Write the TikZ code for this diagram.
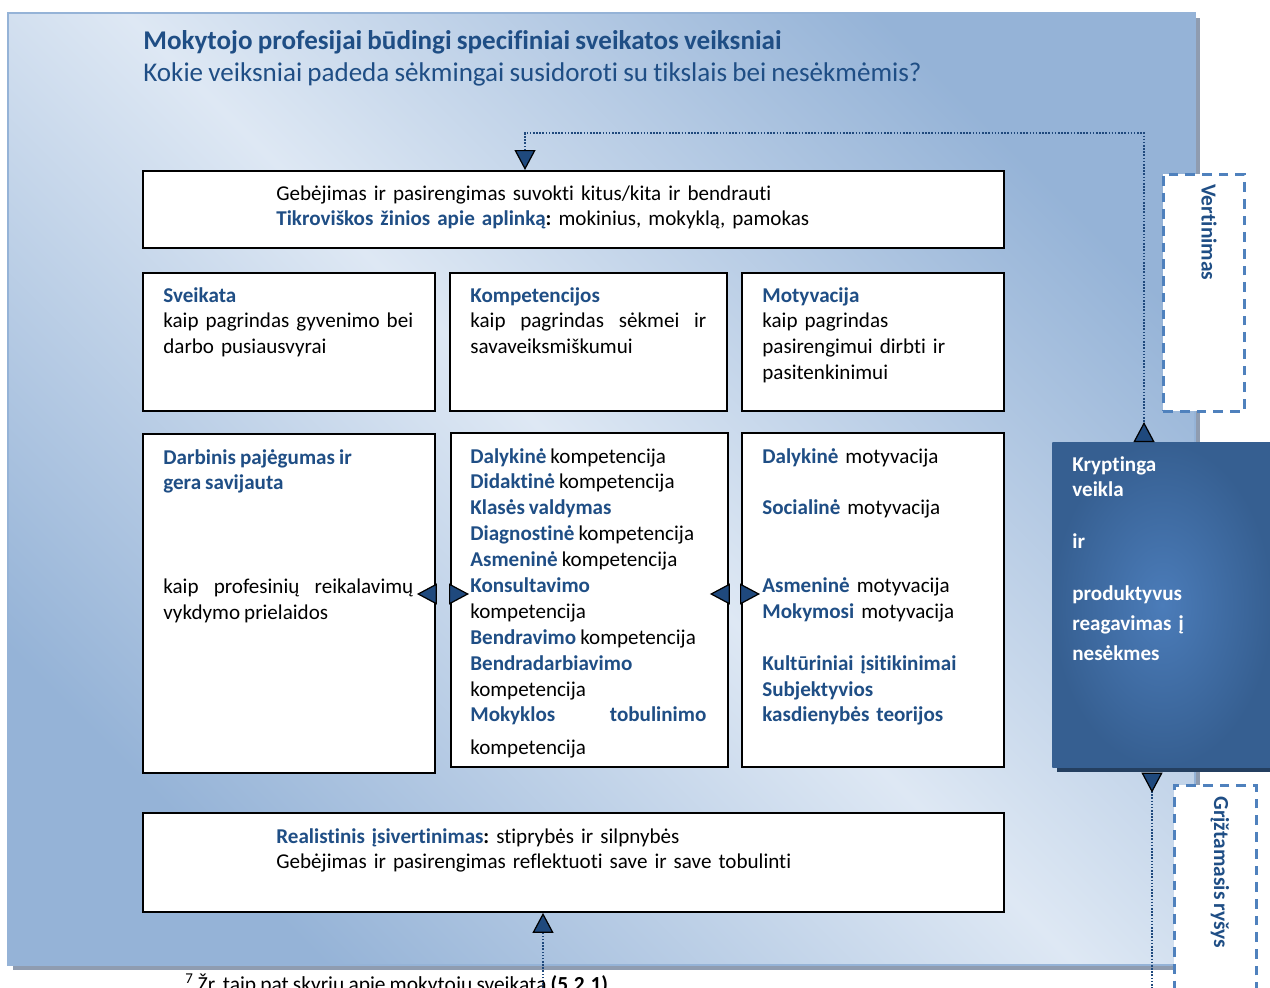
\documentclass[tikz,border=0pt]{standalone}
\usepackage{fontspec}
\setmainfont{Carlito}[Ligatures=NoCommon, WordSpace=0.85]
\usetikzlibrary{arrows.meta}
\frenchspacing
\definecolor{headblue}{RGB}{31,78,133}
\definecolor{arrowblue}{RGB}{31,73,125}
\definecolor{panellight}{RGB}{222,232,244}
\definecolor{paneldark}{RGB}{149,179,215}
\definecolor{panelshadow}{RGB}{143,156,176}
\definecolor{krypdark}{RGB}{54,95,145}
\definecolor{kryplight}{RGB}{75,124,185}
\definecolor{krypshadow}{RGB}{36,63,96}
\definecolor{dashblue}{RGB}{79,129,189}
\newcommand\hl[1]{\textcolor{headblue}{\textbf{#1}}}
\newcommand\bodyfont{\fontsize{12}{14.74}\selectfont}
\tikzset{
    box/.style={draw=black, line width=1.1pt, fill=white, anchor=north west, inner sep=0pt},
    boxsize/.style 2 args={minimum width=#1, minimum height=#2},
    txt/.style={anchor=base west, inner sep=0pt, align=left, text width=#1, font=\bodyfont},
    jtxt/.style={txt=#1, align=justify},
    dashbox/.style={draw=dashblue, line width=1.5pt, dash pattern=on 5.5pt off 4pt, fill=white, anchor=north west, inner sep=0pt},
    vtxt/.style={rotate=-90, anchor=west, inner sep=0pt, text=headblue, font=\fontsize{12.2}{14.74}\selectfont\bfseries},
    link/.style={draw=arrowblue, line width=0.9pt, dash pattern=on 0.9pt off 0.9pt},
    tipsonly/.style={dash pattern=on 0pt off 2cm},
}

\begin{document}
\begin{tikzpicture}[x=0.02cm, y=-0.02cm,
    >={Triangle[length=0.4cm, width=0.42cm, fill=arrowblue, color=black, line width=0.7pt]}]
    \useasboundingbox (0,0) rectangle (1270,987);

    % background panel
    \fill[panelshadow] (13,18) rectangle (1200,970);
    \shade[left color=paneldark, right color=paneldark, middle color=panellight,
        shading angle=-45] (8,13) rectangle (1195,965);
    \draw[paneldark, line width=0.6pt] (8,13) rectangle (1195,965);

    \node[anchor=base west, inner sep=0pt, text=headblue, font=\fontsize{15.4}{18}\selectfont\bfseries]
        (title) at (143,49) {Mokytojo profesijai būdingi specifiniai sveikatos veiksniai};
    \node[anchor=base west, inner sep=0pt, text=headblue, font=\fontsize{15.4}{18}\selectfont]
        (subtitle) at (143,81) {Kokie veiksniai padeda sėkmingai susidoroti su tikslais bei nesėkmėmis?};

    % boxes
    \node[box, boxsize={17.22cm}{1.54cm}] (percep) at (142,170) {};
    \node[box, boxsize={5.84cm}{2.76cm}] (sveik) at (142,272) {};
    \node[box, boxsize={5.54cm}{2.76cm}] (komp) at (449,272) {};
    \node[box, boxsize={5.24cm}{2.76cm}] (motyv) at (741,272) {};
    \node[box, boxsize={5.84cm}{6.78cm}] (darb) at (142,433) {};
    \node[box, boxsize={5.54cm}{6.68cm}] (kompl) at (450,432) {};
    \node[box, boxsize={5.24cm}{6.68cm}] (motl) at (741,432) {};
    \node[box, boxsize={17.22cm}{1.98cm}] (real) at (142,812) {};

    % texts
    \node[txt=14cm] (perceptxt) at (276,200) {Gebėjimas ir pasirengimas suvokti kitus/kita ir bendrauti\\
        \hl{Tikroviškos žinios apie aplinką}\textbf{:} mokinius, mokyklą, pamokas};
    \node[txt=5.2cm] (sveiktxt) at (163,302) {\hl{Sveikata}\\ kaip pagrindas gyvenimo bei\\ darbo pusiausvyrai};
    \node[jtxt=4.72cm] (komptxt) at (470,302) {\hl{Kompetencijos}\\ kaip pagrindas sėkmei ir\linebreak savaveiksmiškumui};
    \node[txt=4.6cm] (motyvtxt) at (762,302) {\hl{Motyvacija}\\ kaip pagrindas\\ pasirengimui dirbti ir\\ pasitenkinimui};
    \node[jtxt=5.0cm] (darbtxt) at (163,464) {\hl{Darbinis pajėgumas ir}\\ \hl{gera savijauta}\\[3\baselineskip]
        kaip profesinių reikalavimų\linebreak vykdymo prielaidos};
    \node[jtxt=4.72cm] (kompltxt) at (470,463) {\hl{Dalykinė} kompetencija\\ \hl{Didaktinė} kompetencija\\
        \hl{Klasės valdymas}\\ \hl{Diagnostinė} kompetencija\\ \hl{Asmeninė} kompetencija\\
        \hl{Konsultavimo}\\ kompetencija\\ \hl{Bendravimo} kompetencija\\ \hl{Bendradarbiavimo}\\
        kompetencija\\ \hl{Mokyklos} \hl{tobulinimo}\vadjust{\vskip3.5pt}\linebreak kompetencija};
    \node[txt=4.6cm] (motltxt) at (762,463) {\hl{Dalykinė} motyvacija\\[\baselineskip] \hl{Socialinė} motyvacija\\[2\baselineskip]
        \hl{Asmeninė} motyvacija\\ \hl{Mokymosi} motyvacija\\[\baselineskip]
        \hl{Kultūriniai įsitikinimai}\\ \hl{Subjektyvios}\\ \hl{kasdienybės teorijos}};
    \node[txt=14cm] (realtxt) at (276,843) {\hl{Realistinis įsivertinimas}\textbf{:} stiprybės ir silpnybės\\
        Gebėjimas ir pasirengimas reflektuoti save ir save tobulinti};

    % right side
    \node[dashbox, boxsize={1.62cm}{4.74cm}] (vert) at (1162,173) {};
    \node[vtxt] (verttxt) at (1209,184) {Vertinimas};
    \node[dashbox, boxsize={1.64cm}{5.5cm}] (grizt) at (1173,784) {};
    \node[vtxt] (grizttxt) at (1220,796) {Grįžtamasis ryšys};

    \fill[krypshadow] (1057,447) rectangle (1275,772);
    \node[anchor=north west, inner sep=0pt, boxsize={4.4cm}{6.5cm}, inner color=kryplight, outer color=krypdark]
        (kryp) at (1052,442) {};
    \node[txt=3.6cm, text=white, font=\bodyfont\bfseries] (kryptxt) at (1072,471)
        {Kryptinga\\ veikla\\[\baselineskip] ir\\[\baselineskip] produktyvus\\[2.3pt] reagavimas į\\[2.3pt] nesėkmes};

    % connectors
    \coordinate (topL) at (525,133);
    \coordinate (topR) at (1144,133);
    \draw[link, <-{Triangle[reversed, length=0.4cm, width=0.42cm, fill=arrowblue, color=black, line width=0.7pt]}]
        (percep.north -| topL) -- (topL) -- (topR) -- (kryp.north -| topR);
    \coordinate (midrow) at (0,594);
    \draw[link, tipsonly, <->, shorten <=-0.38cm, shorten >=-0.38cm] (kompl.west |- midrow) -- (darb.east |- midrow);
    \draw[link, tipsonly, <->, shorten <=-0.38cm, shorten >=-0.38cm] (motl.west |- midrow) -- (kompl.east |- midrow);
    \coordinate (botL) at (543,1010);
    \coordinate (botR) at (1152,1010);
    \draw[link, {Triangle[reversed, length=0.4cm, width=0.42cm, fill=arrowblue, color=black, line width=0.7pt]}-]
        ([yshift=-0.1cm]kryp.south -| botR) -- (botR) -- (botL);
    \draw[link, ->] (botL) -- (real.south -| botL);

    \node[anchor=base west, inner sep=0pt, font=\fontsize{12.2}{14}\selectfont] (footnote) at (185,991)
        {\textsuperscript{7} Žr. taip pat skyrių apie mokytojų sveikatą \textbf{(5.2.1)}};
\end{tikzpicture}
\end{document}
